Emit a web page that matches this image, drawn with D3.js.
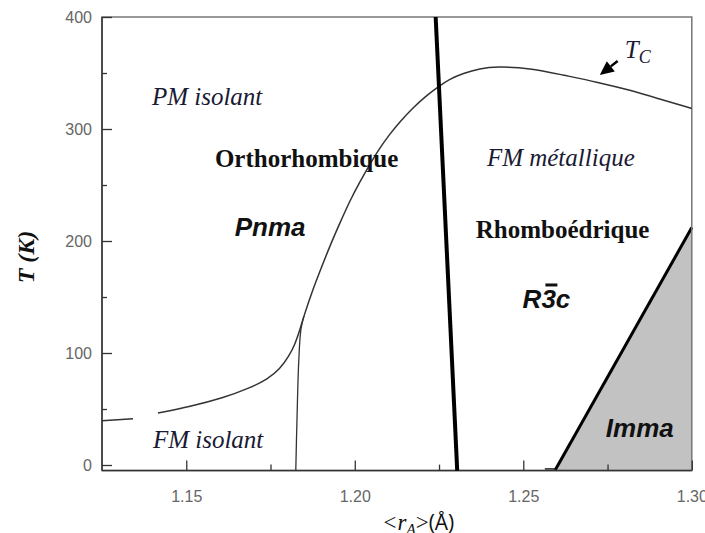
<!DOCTYPE html>
<html>
<head>
<meta charset="utf-8">
<script src="https://cdn.jsdelivr.net/npm/d3@7"></script>
<style>
  body { margin: 0; background: #fff; }
</style>
</head>
<body>
<div id="chart"></div>
<script>
// axis ticks
const xTicks = [1.15, 1.20, 1.25, 1.30];
const xMinorTicks = [1.175, 1.225, 1.275];
const yTicks = [0, 100, 200, 300, 400];
const yMinorTicks = [50, 150, 250, 350];

// Tc curve (r_A in Angstrom, T in K) - left piece is split by a gap
const tcLeft = [[1.125, 39.6], [1.1342, 41.3]];
const tcCurve = [
    [1.1416, 46.4], [1.1511, 52.1], [1.1609, 59.8], [1.1689, 68.75],
    [1.1742, 76.8], [1.1778, 85.7], [1.1805, 97.3], [1.1823, 108.0],
    [1.1837, 120.5], [1.1849, 133.0], [1.1873, 154.5], [1.1897, 173.2],
    [1.1926, 195.5], [1.1956, 216.1], [1.1985, 235.7], [1.2015, 252.7],
    [1.2045, 268.75], [1.2074, 283.0], [1.2104, 295.5], [1.2133, 306.25],
    [1.2172, 318.75], [1.2208, 328.6], [1.2246, 337.5], [1.2282, 344.6],
    [1.2321, 349.6], [1.2371, 354.0], [1.2421, 355.8], [1.2519, 354.5],
    [1.2617, 348.2], [1.2718, 342], [1.2816, 334.8], [1.2914, 325.9],
    [1.3000, 318.3]
];
// FM isolant / orthorhombic boundary
const thinBoundary = [
    [1.1825, -5], [1.1827, 22.3], [1.1830, 58], [1.1834, 93.8],
    [1.1840, 120.5], [1.1849, 133.0]
];
// Orthorhombique / Rhomboedrique boundary
const thickBoundary = [[1.2240, 400], [1.2304, -5]];
// Imma region
const immaRegion = [[1.2594, -5], [1.3000, 212], [1.3000, -5]];
const immaBase = [[1.2564, -3.5], [1.2594, -3.5]];

const width = 705;
const height = 533;

const svg = d3.select("#chart")
    .append("svg")
    .attr("width", width)
    .attr("height", height);

const x = d3.scaleLinear()
    .domain([1.125, 1.30])
    .range([102, 691.8]);

const y = d3.scaleLinear()
    .domain([-5, 400])
    .range([470.6, 17]);

const line = d3.line()
    .x(d => x(d[0]))
    .y(d => y(d[1]));

const smooth = d3.line()
    .x(d => x(d[0]))
    .y(d => y(d[1]))
    .curve(d3.curveBasis);

// Imma grey area
svg.append("path")
    .datum(immaRegion)
    .attr("d", line)
    .attr("fill", "#c2c2c2")
    .attr("stroke", "none");

svg.append("path")
    .datum(immaRegion.slice(0, 2))
    .attr("d", line)
    .attr("fill", "none")
    .attr("stroke", "#000")
    .attr("stroke-width", 3);

svg.append("path")
    .datum(immaBase)
    .attr("d", line)
    .attr("stroke", "#222")
    .attr("stroke-width", 1.5);

// frame
svg.append("rect")
    .attr("x", x(1.125))
    .attr("y", y(400))
    .attr("width", x(1.30) - x(1.125))
    .attr("height", y(-5) - y(400))
    .attr("fill", "none")
    .attr("stroke", "#777")
    .attr("stroke-width", 1.5);

svg.append("line")
    .attr("x1", x(1.125)).attr("x2", x(1.125))
    .attr("y1", y(400)).attr("y2", y(-5))
    .attr("stroke", "#333").attr("stroke-width", 1.5);
svg.append("line")
    .attr("x1", x(1.125)).attr("x2", x(1.30))
    .attr("y1", y(-5)).attr("y2", y(-5))
    .attr("stroke", "#333").attr("stroke-width", 1.5);

// axes (ticks point inward)
const styleAxis = g => {
    g.select(".domain").remove();
    g.selectAll(".tick line").attr("stroke", "#333").attr("stroke-width", 1.3);
    g.selectAll(".tick text")
        .attr("fill", "#666")
        .style("font-family", "'Liberation Sans', Arial, sans-serif")
        .style("font-size", "16px");
};

svg.append("g")
    .attr("transform", `translate(${x(1.125)},0)`)
    .call(d3.axisLeft(y).tickValues(yTicks).tickSize(-10).tickSizeOuter(0).tickPadding(10).tickFormat(d3.format("d")))
    .call(styleAxis);

svg.append("g")
    .attr("transform", `translate(${x(1.125)},0)`)
    .call(d3.axisLeft(y).tickValues(yMinorTicks).tickSize(-5).tickSizeOuter(0).tickFormat(""))
    .call(styleAxis);

svg.append("g")
    .attr("transform", `translate(0,${y(-5)})`)
    .call(d3.axisBottom(x).tickValues(xTicks).tickSize(-10).tickSizeOuter(0).tickPadding(20).tickFormat(d3.format(".2f")))
    .call(styleAxis);

svg.append("g")
    .attr("transform", `translate(0,${y(-5)})`)
    .call(d3.axisBottom(x).tickValues(xMinorTicks).tickSize(-6).tickSizeOuter(0).tickFormat(""))
    .call(styleAxis);

// phase boundaries
svg.append("path")
    .datum(tcLeft)
    .attr("d", line)
    .attr("fill", "none")
    .attr("stroke", "#333")
    .attr("stroke-width", 1.5);

svg.append("path")
    .datum(tcCurve)
    .attr("d", smooth)
    .attr("fill", "none")
    .attr("stroke", "#333")
    .attr("stroke-width", 1.5);

svg.append("path")
    .datum(thinBoundary)
    .attr("d", d3.line().x(d => x(d[0])).y(d => y(d[1])).curve(d3.curveMonotoneY))
    .attr("fill", "none")
    .attr("stroke", "#333")
    .attr("stroke-width", 1.3);

svg.append("path")
    .datum(thickBoundary)
    .attr("d", line)
    .attr("fill", "none")
    .attr("stroke", "#000")
    .attr("stroke-width", 4);

// region labels
const serif = "'Liberation Serif', 'Times New Roman', serif";
const sans = "'Liberation Sans', Arial, sans-serif";

function label(r, t, txt, opts) {
    return svg.append("text")
        .attr("x", x(r))
        .attr("y", y(t))
        .style("font-family", opts.family)
        .style("font-size", opts.size + "px")
        .style("font-style", opts.italic ? "italic" : "normal")
        .style("font-weight", opts.bold ? "bold" : "normal")
        .attr("fill", opts.color || "#111")
        .text(txt);
}

label(1.1398, 321.4, "PM isolant", { family: serif, size: 25, italic: true, color: "#1a1a33" });
label(1.1401, 15.2, "FM isolant", { family: serif, size: 25, italic: true, color: "#1a1a33" });
label(1.2392, 267, "FM métallique", { family: serif, size: 25, italic: true, color: "#1a1a33" });
label(1.1585, 266.1, "Orthorhombique", { family: serif, size: 25, bold: true });
label(1.2359, 202.7, "Rhomboédrique", { family: serif, size: 25, bold: true });
label(1.1644, 204.5, "Pnma", { family: sans, size: 26, bold: true, italic: true });
label(1.2745, 25, "Imma", { family: sans, size: 26, bold: true, italic: true });

const r3c = label(1.2498, 140.2, "R", { family: sans, size: 26, bold: true, italic: true });
r3c.append("tspan").text("3");
r3c.append("tspan").text("c");
const threeBox = r3c.select("tspan").node().getBBox();
svg.append("line")
    .attr("x1", threeBox.x + 4)
    .attr("x2", threeBox.x + threeBox.width + 1)
    .attr("y1", threeBox.y + 1)
    .attr("y2", threeBox.y + 1)
    .attr("stroke", "#111")
    .attr("stroke-width", 3);

// Tc annotation
const tc = label(1.2801, 363.4, "T", { family: serif, size: 25, italic: true, color: "#1a1a33" });
tc.append("tspan").attr("dy", 5).style("font-size", "18px").text("C");

const tail = [x(1.2780), y(360.7)];
const tip = [x(1.2727), y(348.2)];
const ang = Math.atan2(tip[1] - tail[1], tip[0] - tail[0]);
const headLen = 14, headHalf = 6.5;
const base = [tip[0] - headLen * Math.cos(ang), tip[1] - headLen * Math.sin(ang)];

svg.append("line")
    .attr("x1", tail[0]).attr("y1", tail[1])
    .attr("x2", base[0]).attr("y2", base[1])
    .attr("stroke", "#000")
    .attr("stroke-width", 2.5);

svg.append("path")
    .attr("d", d3.line()([
        tip,
        [base[0] + headHalf * Math.sin(ang), base[1] - headHalf * Math.cos(ang)],
        [base[0] - headHalf * Math.sin(ang), base[1] + headHalf * Math.cos(ang)]
    ]) + "Z")
    .attr("fill", "#000");

// axis titles
svg.append("text")
    .attr("transform", "translate(34,257) rotate(-90)")
    .attr("text-anchor", "middle")
    .style("font-family", serif)
    .style("font-size", "24px")
    .style("font-weight", "bold")
    .style("font-style", "italic")
    .attr("fill", "#111")
    .text("T (K)");

const xt = svg.append("text")
    .attr("x", 382)
    .attr("y", 530)
    .attr("fill", "#111")
    .style("font-family", serif)
    .style("font-size", "23px")
    .style("font-style", "italic");
xt.append("tspan").text("<r");
xt.append("tspan").attr("dy", 4).style("font-size", "15px").text("A");
xt.append("tspan").attr("dy", -4).style("font-style", "normal").text(">");
xt.append("tspan").style("font-family", "'Open Sans', 'Noto Sans', sans-serif").style("font-style", "normal").style("font-size", "21px").text("(Å)");
</script>
</body>
</html>
